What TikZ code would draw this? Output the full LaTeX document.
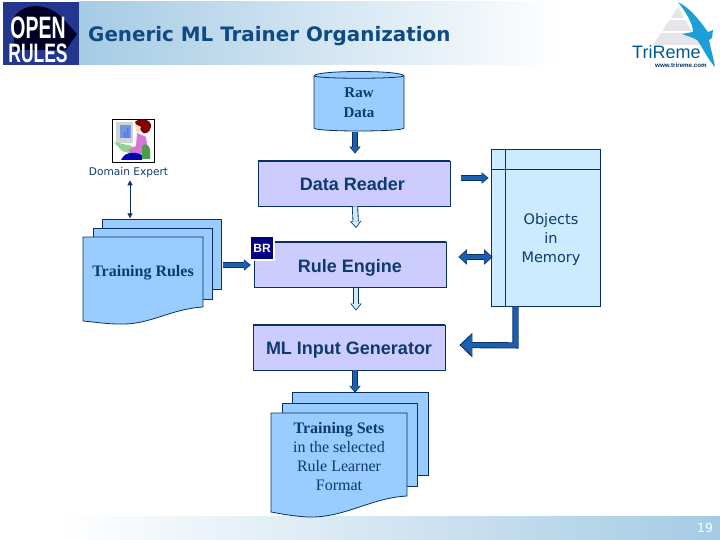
\documentclass[tikz,border=0pt]{standalone}
\usepackage{fontspec}
\setmainfont{Liberation Serif}
\setsansfont{Liberation Sans}
\newfontfamily\versfont{DejaVu Sans}
\usetikzlibrary{arrows.meta}

\definecolor{navyline}{HTML}{0B2F63}
\definecolor{navytext}{HTML}{0F3A6E}
\definecolor{titleblue}{HTML}{0F4A82}
\definecolor{arrowblue}{HTML}{1A5FB0}
\definecolor{bandblue}{HTML}{A5CBE4}
\definecolor{paleblue}{HTML}{99CCFF}
\definecolor{lilac}{HTML}{CCCCFF}
\definecolor{skyfill}{HTML}{CCEBFF}
\definecolor{birdblue}{HTML}{1C9FD8}
\definecolor{logoblue}{HTML}{23378F}

\begin{document}
\begin{tikzpicture}[
    x=1pt, y=-1pt,
    procbox/.style={draw=navyline, line width=0.8pt, fill=lilac, minimum width=192pt, minimum height=45pt, inner sep=0pt, text height=17pt, text depth=3pt, text=navytext, font=\sffamily\bfseries\fontsize{18}{20}\selectfont},
    serifbold/.style={text=navytext, align=center, font=\rmfamily\bfseries\fontsize{15}{20}\selectfont},
    docbold/.style={text=navytext, align=center, font=\rmfamily\bfseries\fontsize{16}{19}\selectfont},
    docpage/.style={draw=navyline, line width=0.8pt, fill=paleblue},
    bluearrow/.style={draw=arrowblue, line width=4.5pt, -{Triangle[length=5.5pt,width=8.5pt]}, shorten >=1.2pt,
        preaction={draw=navyline, line width=6.2pt, -{Triangle[length=7pt,width=11pt]}, shorten >=0pt}},
    lightarrow/.style={bluearrow, draw=skyfill},
    twoarrow/.style={draw=arrowblue, line width=4.5pt, {Triangle[length=7pt,width=12pt]}-{Triangle[length=7pt,width=12pt]}, shorten >=1.2pt, shorten <=1.2pt,
        preaction={draw=navyline, line width=6.2pt, {Triangle[length=8.5pt,width=15pt]}-{Triangle[length=8.5pt,width=15pt]}, shorten >=0pt, shorten <=0pt}},
    thinarrow/.style={draw=navyline, line width=1pt, {Triangle[length=5pt,width=5pt]}-{Triangle[length=5pt,width=5pt]}}
]

\useasboundingbox (0,0) rectangle (720,540);

% Header and footer bands
\shade[left color=bandblue, right color=white] (79,2) rectangle (565,65);
\shade[left color=white, right color=bandblue] (60,516) rectangle (720,540);
\node[text=white, font=\versfont\fontsize{12.5}{14}\selectfont] (pagenum) at (705,528) {19};
\node[anchor=west, inner sep=0pt, text=titleblue, font=\versfont\bfseries\fontsize{15.9}{18}\selectfont] (title) at (88,36) {\scalebox{1.25}[1.25]{Generic ML Trainer Organization}};

% OpenRules logo
\fill[logoblue] (3,2) rectangle (79,65);
\fill[black!85!blue] (14,18) .. controls (20,4) and (48,-1) .. (66,22) -- (77,34) -- (66,50) -- (60,50) -- (14,50) -- cycle;
\node[inner sep=0pt, align=center, text=white, font=\sffamily\bfseries\fontsize{18}{23.5}\selectfont] (logotext) at (38,40) {\scalebox{1.08}[1.72]{OPEN}\\\scalebox{0.97}[1.48]{RULES}};

% TriReme logo
\fill[blue!12!gray!18] (678,7) -- (653,45) -- (700,45) -- cycle;
\foreach \y in {18,31} {
    \fill[white] (650,\y) rectangle (700,\y+2);
}
\fill[birdblue] (678,2) .. controls (692,9) and (702,24) .. (708,32) -- (713,30) -- (712,38) -- (709,40)
    .. controls (711,50) and (714,60) .. (715,67) .. controls (708,60) and (702,46) .. (697,40)
    .. controls (692,37) and (687,36) .. (682,34) -- (693,32) .. controls (693,24) and (686,12) .. (678,2) -- cycle;
\node[anchor=west, inner sep=0pt, text=teal!75!blue!90!black, font=\sffamily\fontsize{18}{18}\selectfont] (trireme) at (632,52) {TriReme};
\node[anchor=west, inner sep=0pt, text=navyline, font=\sffamily\bfseries\fontsize{6.2}{7}\selectfont] (triwww) at (655,65) {www.trireme.com};

% Raw data drum
\draw[docpage] (314,76) .. controls (314,70) and (404,70) .. (404,76) -- (404,128)
    .. controls (404,132) and (314,132) .. (314,128) -- cycle;
\draw[navyline, line width=0.8pt] (314,76) .. controls (320,79) and (398,79) .. (404,76);
\node[serifbold, minimum width=90pt, minimum height=59pt, inner sep=0pt] (rawdata) at (359,103) {Raw\\Data};

% Processing boxes
\node[procbox] (datareader) at (354,183.5) {\hspace{-3pt}Data Reader};
\node[procbox] (ruleengine) at (350,265) {Rule Engine};
\node[procbox] (mlinput) at (349,347.5) {ML Input Generator};
\draw[navyline, line width=2pt] (datareader.north west) -- (datareader.north east);
\draw[navyline, line width=2pt] (ruleengine.north west) -- (ruleengine.north east);
\draw[navyline, line width=2pt] (mlinput.north west) -- (mlinput.north east);

% Objects in memory panel
\node[draw=navyline, line width=0.8pt, fill=skyfill, minimum width=109pt, minimum height=157pt, inner sep=0pt] (objects) at (545.5,227.5) {};
\draw[navyline, line width=0.8pt] (505,149) -- (505,306);
\draw[navyline, line width=0.8pt] (491,169) -- (600,169);
\node[align=center, inner sep=0pt, text=navytext, font=\versfont\fontsize{14.5}{19}\selectfont] (objtext) at (551,239) {Objects\\in\\Memory};

% Stacked pages, training rules
\foreach \a/\b/\c/\d in {102/219/221/289, 93/228/212/299} {
    \draw[docpage] (\a,\b) rectangle (\c,\d);
}
\draw[docpage] (83,237) -- (203,237) -- (203,307) .. controls (170,309) and (150,325) .. (120,324)
    .. controls (105,324) and (95,322) .. (83,321) -- cycle;
\node[docbold, minimum width=120pt, minimum height=85pt, inner sep=0pt] (trainingrules) at (143,273) {Training Rules};

% Stacked pages, training sets
\foreach \a/\b/\c/\d in {292/392/428/475, 282/403/417/486} {
    \draw[docpage] (\a,\b) rectangle (\c,\d);
}
\draw[docpage] (271,413) -- (407,413) -- (407,496) .. controls (370,498) and (345,518) .. (308,517)
    .. controls (292,516) and (282,514) .. (271,512) -- cycle;
\node[docbold, minimum width=136pt, minimum height=100pt, inner sep=0pt] (trainingsets) at (339,457) {Training Sets\\
    {\mdseries in the selected}\\{\mdseries Rule Learner}\\{\mdseries Format}};

% BR tag
\fill[white] (251,237) rectangle (275,261);
\node[fill=blue!50!black, minimum width=22pt, minimum height=22pt, inner sep=0pt, text=white, font=\sffamily\bfseries\fontsize{12}{14}\selectfont] (brtag) at (262,248) {BR};

% Domain expert picture
\node[draw=black, line width=0.8pt, fill=white, minimum width=42pt, minimum height=43pt, inner sep=0pt] (expertpic) at (133.5,140.5) {};
\fill[gray!35] (116,122) rectangle (133,143);
\fill[cyan!50!blue!60] (120,125) rectangle (131,138);
\fill[blue!60] (124,132) rectangle (125.5,138) (127,128) rectangle (128.5,138);
\fill[green!40!gray!60] (114,142) -- (132,146) -- (136,155) -- (122,151) -- cycle;
\fill[violet!55!magenta!55] (137,133) -- (146,137) -- (148,152) -- (136,155) -- (128,150) -- (136,146) -- cycle;
\fill[blue!70!black] (121,160) .. controls (123,154) and (132,150) .. (142,155) -- (142,160) -- cycle;
\fill[green!45!black!70] (142,146) .. controls (146,142) and (150,146) .. (150,150) -- (150,159) -- (142,159) -- cycle;
\fill[red!50!black] (135,122) .. controls (140,117) and (152,119) .. (151,127) .. controls (150,133) and (144,135) .. (142,132) .. controls (140,128) and (137,128) .. (135,122) -- cycle;
\fill[orange!30] (135,124) -- (141,127) -- (139,133) -- (136,131) -- cycle;
\node[inner sep=0pt, text=navytext, font=\versfont\fontsize{10.6}{12}\selectfont] (domainexpert) at (128.5,173) {Domain Expert};

% Connectors
\draw[thinarrow] ([xshift=1.5pt,yshift=-2pt]domainexpert.south) -- ([xshift=-13pt,yshift=12pt]trainingrules.north);
\draw[bluearrow] ([xshift=-4pt,yshift=1pt]rawdata.south) -- ([xshift=1pt,yshift=7pt]datareader.north);
\draw[lightarrow] ([xshift=1pt]datareader.south) -- ([xshift=6pt,yshift=14pt]ruleengine.north);
\draw[lightarrow] ([xshift=6pt]ruleengine.south) -- ([xshift=7pt,yshift=14pt]mlinput.north);
\draw[bluearrow] ([xshift=6pt]mlinput.south) -- ([xshift=16pt,yshift=14pt]trainingsets.north);
\draw[bluearrow] ([xshift=11pt,yshift=5.5pt]datareader.east) -- ([xshift=-2pt,yshift=49.5pt]objects.west);
\draw[twoarrow] ([xshift=12pt,yshift=8pt]ruleengine.east) -- ([xshift=2pt,yshift=-29.5pt]objects.west);
\draw[bluearrow] ([xshift=20pt,yshift=8pt]trainingrules.east) -- ([yshift=-17pt]brtag.west);
\draw[draw=arrowblue, line width=4.5pt, -{Triangle[length=11pt,width=20pt]}, shorten >=1.5pt,
    preaction={draw=navyline, line width=6.2pt, -{Triangle[length=13pt,width=24pt]}, shorten >=0pt}]
    ([xshift=-30pt]objects.south) -- ++(0,39) -- ([xshift=14pt,yshift=2.5pt]mlinput.east);

\end{tikzpicture}
\end{document}
